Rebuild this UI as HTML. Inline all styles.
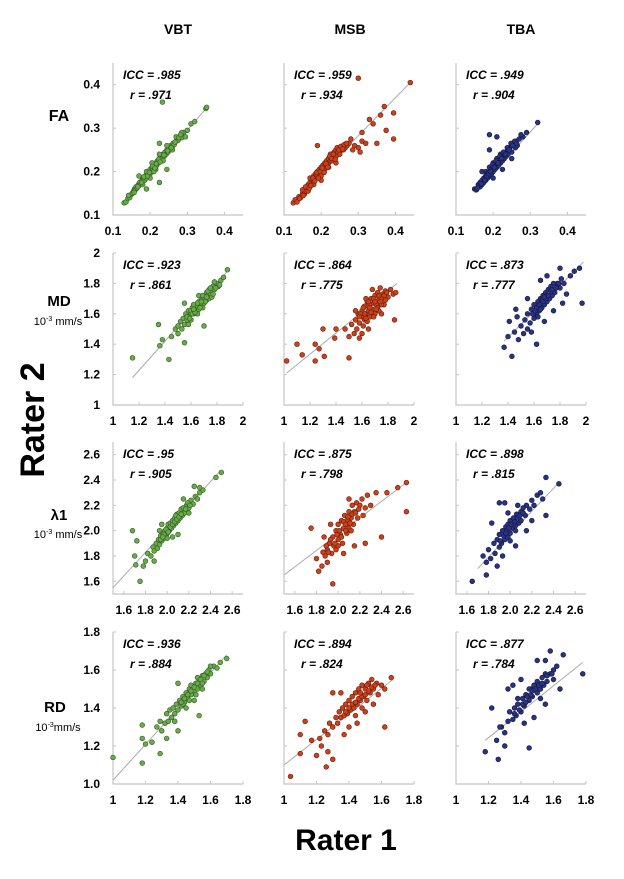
<!DOCTYPE html>
<html><head><meta charset="utf-8">
<style>
body{margin:0;background:#fff;width:624px;height:879px;overflow:hidden;font-family:"Liberation Sans",Arial,sans-serif;}
svg{display:block}
</style></head>
<body>
<svg id="chart" width="624" height="879" viewBox="0 0 624 879" xmlns="http://www.w3.org/2000/svg">
<g id="titles" font-weight="bold" fill="#000">
<text x="178" y="34" font-size="14" text-anchor="middle">VBT</text>
<text x="350" y="34" font-size="14" text-anchor="middle">MSB</text>
<text x="521" y="34" font-size="14" text-anchor="middle">TBA</text>
<text x="59" y="121" font-size="16" text-anchor="middle">FA</text>
<text x="59" y="306" font-size="15" text-anchor="middle">MD</text>
<text x="58" y="325" font-size="11" font-weight="normal" text-anchor="middle">10<tspan font-size="7" dy="-4">-3</tspan><tspan dy="4"> mm/s</tspan></text>
<text x="59" y="520" font-size="15" text-anchor="middle">λ1</text>
<text x="58" y="538" font-size="11" font-weight="normal" text-anchor="middle">10<tspan font-size="7" dy="-4">-3</tspan><tspan dy="4"> mm/s</tspan></text>
<text x="55" y="712" font-size="15" text-anchor="middle">RD</text>
<text x="58" y="731" font-size="11" font-weight="normal" text-anchor="middle">10<tspan font-size="7" dy="-4">-3</tspan><tspan dy="4">mm/s</tspan></text>
<text transform="translate(44,420) rotate(-90)" font-size="34" text-anchor="middle">Rater 2</text>
<text x="346" y="850" font-size="30" text-anchor="middle">Rater 1</text>
</g>
<g id="panels"></g>
</svg>
<script>
// ---- data ----
const faTicks=[0.1,0.2,0.3,0.4];
const faTickLabels=["0.1","0.2","0.3","0.4"];
const mdTicks=[1,1.2,1.4,1.6,1.8,2];
const mdTickLabels=["1","1.2","1.4","1.6","1.8","2"];
const l1Ticks=[1.6,1.8,2.0,2.2,2.4,2.6];
const l1TickLabels=["1.6","1.8","2.0","2.2","2.4","2.6"];
const rdTicks=[1,1.2,1.4,1.6,1.8];
const rdXTickLabels=["1","1.2","1.4","1.6","1.8"];
const rdYTickLabels=["1.0","1.2","1.4","1.6","1.8"];
const faDomain=[0.1,0.45], mdDomain=[1,2], l1Domain=[1.5,2.7], rdDomain=[1,1.8];

const iccValues=[".985",".959",".949",".923",".864",".873",".95",".875",".898",".936",".894",".877"];
const rValues=[".971",".934",".904",".861",".775",".777",".905",".798",".815",".884",".824",".784"];

const faVbtFit=[[0.13,0.125],[0.355,0.35]];
const faVbt=[[.13,.128],[.135,.13],[.14,.138],[.145,.14],[.15,.148],[.152,.15],[.155,.155],[.158,.16],[.16,.158],[.162,.165],[.165,.162],[.168,.17],[.17,.168],[.172,.175],[.175,.172],[.178,.18],[.18,.178],[.182,.185],[.185,.18],[.187,.19],[.19,.185],[.192,.195],[.195,.19],[.197,.2],[.2,.195],[.2,.205],[.203,.2],[.205,.21],[.208,.205],[.21,.215],[.212,.21],[.215,.22],[.218,.215],[.22,.225],[.222,.22],[.225,.23],[.228,.225],[.23,.235],[.232,.23],[.235,.24],[.238,.235],[.24,.245],[.243,.24],[.245,.25],[.248,.245],[.25,.255],[.253,.25],[.255,.26],[.26,.258],[.262,.265],[.265,.262],[.27,.27],[.275,.272],[.28,.28],[.285,.278],[.29,.29],[.3,.295],[.31,.31],[.32,.315],[.35,.345],[.352,.348],[.233,.36],[.225,.175],[.245,.205],[.19,.16],[.17,.19],[.225,.265],[.295,.28],[.285,.29],[.18,.17],[.2,.185],[.215,.205],[.235,.225],[.26,.25],[.21,.2],[.19,.2],[.205,.22],[.225,.24],[.245,.26],[.27,.28],[.142,.145],[.157,.152],[.167,.165],[.177,.175],[.183,.188],[.193,.19],[.198,.198],[.207,.212],[.213,.208],[.217,.218],[.223,.228],[.227,.222],[.237,.238],[.247,.248],[.257,.255],[.267,.268],[.277,.278],[.282,.285]];
const faMsbFit=[[0.12,0.125],[0.44,0.405]];
const faMsb=[[.125,.128],[.13,.135],[.135,.13],[.14,.142],[.145,.14],[.15,.15],[.15,.158],[.155,.148],[.16,.162],[.16,.155],[.165,.17],[.165,.16],[.17,.175],[.17,.165],[.175,.18],[.175,.17],[.18,.19],[.18,.178],[.185,.185],[.185,.195],[.19,.19],[.19,.2],[.195,.195],[.195,.205],[.2,.2],[.2,.21],[.2,.19],[.205,.215],[.205,.2],[.21,.22],[.21,.205],[.215,.215],[.215,.225],[.22,.22],[.22,.23],[.225,.225],[.225,.24],[.23,.235],[.23,.225],[.235,.245],[.235,.23],[.24,.25],[.24,.235],[.245,.245],[.25,.255],[.25,.24],[.255,.25],[.26,.26],[.26,.25],[.265,.255],[.27,.26],[.275,.265],[.28,.275],[.19,.26],[.165,.155],[.3,.415],[.44,.405],[.37,.35],[.395,.335],[.375,.295],[.395,.275],[.31,.27],[.33,.32],[.34,.31],[.35,.265],[.305,.245],[.32,.265],[.3,.255],[.29,.26],[.31,.29],[.36,.33],[.285,.25],[.18,.17],[.2,.18],[.22,.21],[.24,.22],[.17,.185],[.142,.138],[.152,.145],[.158,.165],[.168,.162],[.172,.168],[.178,.185],[.183,.178],[.188,.198],[.193,.185],[.198,.2],[.203,.208],[.208,.198],[.213,.218],[.218,.21],[.223,.235],[.228,.23],[.233,.24],[.238,.228],[.243,.255],[.248,.25],[.253,.258],[.258,.252],[.262,.262],[.268,.265]];
const faTbaFit=[[0.15,0.15],[0.32,0.31]];
const faTba=[[.15,.16],[.155,.158],[.16,.165],[.16,.17],[.165,.175],[.165,.165],[.17,.18],[.17,.17],[.175,.185],[.175,.175],[.18,.19],[.18,.18],[.18,.2],[.185,.195],[.185,.185],[.19,.2],[.19,.19],[.19,.21],[.195,.205],[.195,.195],[.2,.21],[.2,.2],[.2,.22],[.205,.215],[.205,.205],[.21,.22],[.21,.21],[.21,.23],[.215,.225],[.215,.215],[.22,.23],[.22,.22],[.22,.24],[.225,.235],[.225,.225],[.23,.24],[.23,.23],[.235,.245],[.235,.235],[.24,.25],[.24,.24],[.245,.255],[.25,.26],[.25,.245],[.255,.265],[.26,.27],[.26,.255],[.27,.275],[.28,.28],[.29,.29],[.32,.313],[.19,.285],[.21,.28],[.19,.25],[.17,.2],[.2,.185],[.225,.205],[.25,.23],[.265,.26],[.275,.285],[.158,.162],[.168,.172],[.178,.18],[.183,.19],[.188,.195],[.193,.2],[.198,.215],[.203,.21],[.208,.225],[.213,.22],[.218,.235],[.223,.23],[.228,.245],[.233,.24],[.238,.255],[.243,.25],[.248,.265],[.253,.26],[.258,.27],[.263,.265]];

const mdVbtFit=[[1.15,1.18],[1.88,1.88]];
const mdVbt=[[1.15,1.31],[1.35,1.53],[1.43,1.3],[1.7,1.52],[1.55,1.41],[1.38,1.43],[1.36,1.39],[1.45,1.45],[1.48,1.5],[1.5,1.52],[1.5,1.47],[1.52,1.55],[1.53,1.5],[1.54,1.57],[1.55,1.53],[1.56,1.6],[1.57,1.56],[1.58,1.58],[1.58,1.62],[1.6,1.6],[1.6,1.56],[1.61,1.64],[1.62,1.6],[1.63,1.63],[1.64,1.66],[1.64,1.61],[1.65,1.65],[1.66,1.68],[1.66,1.63],[1.67,1.67],[1.68,1.7],[1.68,1.65],[1.69,1.69],[1.7,1.72],[1.7,1.67],[1.71,1.7],[1.72,1.74],[1.72,1.69],[1.73,1.72],[1.74,1.76],[1.75,1.73],[1.76,1.75],[1.77,1.78],[1.78,1.76],[1.8,1.8],[1.81,1.78],[1.83,1.82],[1.85,1.84],[1.88,1.89],[1.55,1.67],[1.58,1.53],[1.62,1.66],[1.66,1.72],[1.74,1.7],[1.78,1.81],[1.82,1.79],[1.6,1.62],[1.65,1.6],[1.69,1.64],[1.76,1.71],[1.57,1.58],[1.59,1.57],[1.61,1.6],[1.63,1.61],[1.65,1.67],[1.67,1.64],[1.69,1.72],[1.71,1.68],[1.73,1.75],[1.75,1.77],[1.77,1.73],[1.79,1.77],[1.62,1.63],[1.68,1.68],[1.72,1.71]];
const mdMsbFit=[[1.02,1.21],[1.87,1.8]];
const mdMsb=[[1.02,1.29],[1.1,1.4],[1.14,1.33],[1.24,1.4],[1.24,1.29],[1.27,1.37],[1.31,1.32],[1.3,1.5],[1.5,1.31],[1.4,1.5],[1.39,1.44],[1.47,1.5],[1.5,1.45],[1.52,1.53],[1.54,1.47],[1.55,1.56],[1.56,1.5],[1.57,1.6],[1.58,1.54],[1.58,1.44],[1.6,1.58],[1.6,1.62],[1.61,1.52],[1.62,1.65],[1.62,1.56],[1.63,1.6],[1.64,1.68],[1.64,1.55],[1.65,1.62],[1.66,1.66],[1.66,1.58],[1.67,1.7],[1.68,1.63],[1.69,1.67],[1.7,1.72],[1.7,1.6],[1.71,1.66],[1.72,1.74],[1.72,1.64],[1.73,1.69],[1.74,1.77],[1.75,1.7],[1.76,1.73],[1.77,1.66],[1.78,1.75],[1.8,1.71],[1.82,1.76],[1.84,1.73],[1.86,1.74],[1.85,1.56],[1.75,1.6],[1.6,1.47],[1.65,1.5],[1.55,1.62],[1.68,1.76],[1.63,1.7],[1.73,1.62],[1.59,1.6],[1.69,1.58],[1.78,1.69],[1.61,1.64],[1.63,1.57],[1.65,1.68],[1.67,1.61],[1.69,1.7],[1.71,1.63],[1.73,1.72],[1.75,1.66],[1.77,1.72],[1.79,1.74],[1.62,1.6],[1.66,1.64],[1.7,1.68],[1.74,1.68],[1.58,1.58]];
const mdTbaFit=[[1.37,1.42],[1.98,1.94]];
const mdTba=[[1.37,1.38],[1.43,1.32],[1.41,1.55],[1.46,1.63],[1.62,1.4],[1.97,1.67],[1.91,1.88],[1.4,1.45],[1.45,1.48],[1.48,1.43],[1.5,1.52],[1.52,1.47],[1.53,1.56],[1.55,1.5],[1.55,1.6],[1.57,1.54],[1.58,1.63],[1.6,1.57],[1.6,1.66],[1.62,1.6],[1.63,1.68],[1.64,1.62],[1.65,1.7],[1.66,1.64],[1.67,1.72],[1.68,1.66],[1.69,1.74],[1.7,1.68],[1.71,1.76],[1.72,1.7],[1.73,1.78],[1.74,1.72],[1.75,1.8],[1.76,1.74],[1.78,1.8],[1.8,1.77],[1.81,1.83],[1.83,1.8],[1.85,1.73],[1.88,1.85],[1.95,1.9],[1.8,1.9],[1.7,1.85],[1.65,1.82],[1.55,1.7],[1.47,1.58],[1.58,1.48],[1.68,1.55],[1.75,1.62],[1.82,1.67],[1.62,1.64],[1.66,1.69],[1.7,1.72],[1.63,1.58],[1.73,1.75],[1.59,1.6],[1.61,1.62],[1.64,1.66],[1.67,1.68],[1.69,1.7],[1.71,1.72],[1.74,1.76],[1.77,1.77],[1.79,1.8],[1.65,1.63],[1.68,1.71]];

const l1VbtFit=[[1.5,1.55],[2.5,2.48]];
const l1Vbt=[[1.68,2.0],[1.72,1.92],[1.7,1.8],[1.75,1.6],[1.78,1.72],[1.71,1.73],[1.8,1.76],[1.82,1.82],[1.85,1.8],[1.87,1.87],[1.88,1.84],[1.9,1.9],[1.91,1.86],[1.92,1.93],[1.93,1.89],[1.94,1.96],[1.95,1.92],[1.96,1.98],[1.97,1.94],[1.98,2.0],[1.99,1.96],[2.0,2.02],[2.0,1.98],[2.01,2.05],[2.02,2.0],[2.03,2.06],[2.04,2.02],[2.05,2.08],[2.06,2.04],[2.07,2.1],[2.08,2.06],[2.09,2.13],[2.1,2.08],[2.11,2.14],[2.12,2.1],[2.13,2.17],[2.14,2.12],[2.15,2.18],[2.16,2.14],[2.18,2.2],[2.2,2.18],[2.22,2.24],[2.24,2.21],[2.26,2.27],[2.28,2.25],[2.3,2.3],[2.33,2.32],[2.45,2.42],[2.5,2.46],[1.88,1.76],[2.05,1.95],[2.1,1.97],[2.15,2.25],[2.25,2.35],[1.95,2.05],[2.2,2.14],[2.3,2.34],[2.0,1.94],[1.93,2.0],[2.08,2.12],[1.97,1.97],[1.99,2.01],[2.01,1.99],[2.03,2.03],[2.05,2.05],[2.07,2.07],[2.09,2.09],[2.11,2.11],[2.13,2.13],[2.17,2.17],[2.19,2.22],[2.21,2.2],[1.94,1.93],[1.96,1.95]];
const l1MsbFit=[[1.5,1.65],[2.63,2.38]];
const l1Msb=[[2.63,2.38],[2.63,2.15],[2.4,1.95],[1.75,2.02],[1.95,1.58],[1.85,1.72],[1.88,1.8],[1.9,1.85],[1.9,1.75],[1.92,1.9],[1.94,1.82],[1.95,1.95],[1.96,1.88],[1.98,2.0],[1.98,1.85],[2.0,1.93],[2.0,2.05],[2.02,1.97],[2.03,2.08],[2.04,1.9],[2.05,2.02],[2.06,2.12],[2.08,1.98],[2.08,2.08],[2.1,2.15],[2.1,2.02],[2.12,2.1],[2.13,2.2],[2.14,2.05],[2.15,2.15],[2.17,2.22],[2.18,2.1],[2.2,2.2],[2.22,2.25],[2.23,2.12],[2.25,2.18],[2.27,2.28],[2.3,2.2],[2.35,2.3],[2.45,2.3],[2.55,2.34],[1.8,1.78],[1.82,1.68],[1.87,1.95],[2.05,1.82],[2.15,1.88],[2.25,1.9],[1.93,2.05],[2.1,2.25],[2.0,1.88],[2.07,2.0],[2.12,2.0],[1.91,1.83],[1.93,1.93],[1.97,1.9],[1.99,1.97],[2.01,2.0],[2.03,1.95],[2.05,2.07],[2.07,2.05],[2.09,2.11],[2.11,2.06],[2.13,2.13],[2.16,2.14],[2.19,2.17],[1.86,1.83],[1.89,1.88]];
const l1TbaFit=[[1.7,1.7],[2.45,2.38]];
const l1Tba=[[1.65,1.6],[2.33,2.42],[2.33,2.12],[1.78,1.65],[2.45,2.37],[1.75,1.8],[1.78,1.75],[1.8,1.85],[1.82,1.78],[1.85,1.9],[1.86,1.82],[1.88,1.93],[1.9,1.87],[1.9,1.97],[1.92,1.9],[1.93,2.0],[1.95,1.93],[1.96,2.03],[1.98,1.95],[1.98,2.05],[2.0,1.98],[2.0,2.08],[2.02,2.02],[2.03,2.1],[2.05,2.04],[2.06,2.13],[2.08,2.06],[2.1,2.15],[2.1,2.08],[2.12,2.18],[2.14,2.12],[2.15,2.2],[2.18,2.17],[2.2,2.24],[2.22,2.2],[2.25,2.28],[2.28,2.3],[2.3,2.25],[1.9,2.22],[1.95,2.22],[1.83,2.06],[1.93,1.8],[2.05,1.88],[2.15,2.0],[2.2,2.08],[1.98,2.14],[2.07,2.2],[1.88,1.72],[2.0,1.92],[2.05,2.0],[1.94,1.96],[1.97,2.0],[1.99,2.02],[2.01,2.05],[2.04,2.07],[2.07,2.1],[2.09,2.12],[2.12,2.14],[1.91,1.92],[1.96,1.98]];

const rdVbtFit=[[1.0,1.02],[1.7,1.68]];
const rdVbt=[[1.0,1.14],[1.18,1.11],[1.29,1.16],[1.53,1.36],[1.18,1.31],[1.18,1.24],[1.4,1.53],[1.2,1.21],[1.24,1.22],[1.27,1.3],[1.29,1.33],[1.3,1.28],[1.32,1.32],[1.33,1.37],[1.34,1.33],[1.35,1.39],[1.36,1.35],[1.37,1.4],[1.38,1.37],[1.39,1.42],[1.4,1.39],[1.41,1.44],[1.42,1.41],[1.43,1.46],[1.44,1.43],[1.45,1.48],[1.46,1.45],[1.47,1.5],[1.48,1.47],[1.49,1.51],[1.5,1.49],[1.51,1.53],[1.52,1.5],[1.53,1.55],[1.54,1.52],[1.55,1.57],[1.56,1.54],[1.57,1.58],[1.58,1.56],[1.59,1.6],[1.6,1.58],[1.62,1.62],[1.64,1.61],[1.66,1.64],[1.7,1.66],[1.4,1.28],[1.33,1.24],[1.45,1.4],[1.5,1.44],[1.55,1.5],[1.48,1.52],[1.43,1.42],[1.6,1.62],[1.38,1.33],[1.52,1.56],[1.44,1.45],[1.46,1.47],[1.48,1.49],[1.5,1.51],[1.52,1.53],[1.54,1.55],[1.56,1.57],[1.58,1.59],[1.47,1.44],[1.51,1.47],[1.55,1.53],[1.42,1.43]];
const rdMsbFit=[[1.0,1.1],[1.67,1.55]];
const rdMsb=[[1.04,1.04],[1.1,1.16],[1.13,1.33],[1.26,1.09],[1.3,1.13],[1.62,1.3],[1.2,1.15],[1.1,1.26],[1.17,1.23],[1.22,1.24],[1.23,1.2],[1.25,1.28],[1.27,1.26],[1.28,1.32],[1.3,1.3],[1.32,1.35],[1.33,1.32],[1.34,1.38],[1.35,1.35],[1.36,1.4],[1.37,1.36],[1.38,1.42],[1.39,1.37],[1.4,1.44],[1.41,1.39],[1.42,1.46],[1.43,1.4],[1.44,1.48],[1.45,1.42],[1.46,1.5],[1.47,1.44],[1.48,1.52],[1.49,1.46],[1.5,1.5],[1.51,1.44],[1.52,1.53],[1.53,1.48],[1.54,1.55],[1.55,1.5],[1.57,1.53],[1.58,1.47],[1.6,1.52],[1.62,1.5],[1.66,1.56],[1.35,1.48],[1.3,1.48],[1.4,1.3],[1.45,1.32],[1.5,1.38],[1.55,1.42],[1.27,1.17],[1.37,1.26],[1.44,1.36],[1.48,1.4],[1.42,1.42],[1.44,1.43],[1.46,1.45],[1.48,1.46],[1.5,1.47],[1.52,1.49],[1.54,1.51],[1.4,1.4],[1.38,1.38],[1.47,1.48],[1.51,1.52],[1.56,1.52]];
const rdTbaFit=[[1.18,1.23],[1.78,1.64]];
const rdTba=[[1.18,1.17],[1.26,1.13],[1.45,1.19],[1.78,1.58],[1.58,1.7],[1.22,1.4],[1.66,1.68],[1.25,1.23],[1.28,1.3],[1.3,1.27],[1.32,1.33],[1.33,1.38],[1.35,1.34],[1.36,1.4],[1.37,1.36],[1.38,1.42],[1.4,1.38],[1.41,1.45],[1.42,1.41],[1.43,1.47],[1.45,1.44],[1.46,1.5],[1.47,1.46],[1.48,1.52],[1.5,1.48],[1.5,1.54],[1.52,1.5],[1.53,1.56],[1.54,1.52],[1.55,1.58],[1.56,1.54],[1.58,1.58],[1.6,1.6],[1.6,1.55],[1.62,1.62],[1.64,1.5],[1.32,1.5],[1.35,1.52],[1.4,1.55],[1.5,1.65],[1.55,1.65],[1.42,1.32],[1.48,1.35],[1.55,1.42],[1.3,1.2],[1.27,1.3],[1.45,1.5],[1.52,1.45],[1.38,1.45],[1.39,1.39],[1.41,1.42],[1.43,1.43],[1.44,1.46],[1.46,1.47],[1.47,1.49],[1.49,1.5],[1.51,1.52],[1.53,1.53],[1.56,1.57],[1.59,1.58],[1.36,1.37]];

// ---- layout ----
const colX=[113,284,456], rowBottom=[215,405,594,784], W=130, H=152;
const styles=[{f:"#6aaa4a",s:"#2f5a22"},{f:"#c9421c",s:"#6a1a08"},{f:"#2a3382",s:"#11173f"}];
const rows=[
 {d:faDomain,xt:faTicks,xl:faTickLabels,yl:faTickLabels,sets:[faVbt,faMsb,faTba],fits:[faVbtFit,faMsbFit,faTbaFit]},
 {d:mdDomain,xt:mdTicks,xl:mdTickLabels,yl:mdTickLabels,sets:[mdVbt,mdMsb,mdTba],fits:[mdVbtFit,mdMsbFit,mdTbaFit]},
 {d:l1Domain,xt:l1Ticks,xl:l1TickLabels,yl:l1TickLabels,sets:[l1Vbt,l1Msb,l1Tba],fits:[l1VbtFit,l1MsbFit,l1TbaFit]},
 {d:rdDomain,xt:rdTicks,xl:rdXTickLabels,yl:rdYTickLabels,sets:[rdVbt,rdMsb,rdTba],fits:[rdVbtFit,rdMsbFit,rdTbaFit]}
];
const NS="http://www.w3.org/2000/svg";
const root=document.getElementById('panels');
function mk(tag,attrs,parent){const e=document.createElementNS(NS,tag);for(const k in attrs)e.setAttribute(k,attrs[k]);parent.appendChild(e);return e;}
const rowNames=["fa","md","l1","rd"], colNames=["vbt","msb","tba"];
rows.forEach((row,ri)=>{
 colX.forEach((x0,ci)=>{
  const yb=rowBottom[ri];
  const sx=v=>x0+(v-row.d[0])/(row.d[1]-row.d[0])*W;
  const sy=v=>yb-(v-row.d[0])/(row.d[1]-row.d[0])*H;
  const g=mk('g',{},root);
  
  
  const ax=mk('path',{d:`M${x0} ${yb-H}V${yb}H${x0+W}`,stroke:"#c4c4c4","stroke-width":1.2,fill:"none"},g);
  
  
  row.xt.forEach((t,i)=>{
   mk('line',{x1:sx(t),x2:sx(t),y1:yb,y2:yb-3,stroke:"#c4c4c4"},g);
   mk('line',{x1:x0,x2:x0+3,y1:sy(t),y2:sy(t),stroke:"#c4c4c4"},g);
   const tx=mk('text',{x:sx(t),y:yb+20,"font-size":12,"font-weight":"bold","text-anchor":"middle"},g);
   tx.textContent=row.xl[i];
   
   
   if(ci===0){
    const ty=mk('text',{x:x0-13,y:sy(t)+4,"font-size":12,"font-weight":"bold","text-anchor":"end"},g);
    ty.textContent=row.yl[i];
    
    
   }
  });
  const fit=row.fits[ci];
  const fl=mk('line',{x1:sx(fit[0][0]),y1:sy(fit[0][1]),x2:sx(fit[1][0]),y2:sy(fit[1][1]),stroke:"#aaa","stroke-width":1},g);
  
  
  const st=styles[ci];
  row.sets[ci].forEach(p=>{
   const c=mk('circle',{cx:sx(p[0]),cy:sy(p[1]),r:2.4,fill:st.f,stroke:st.s,"stroke-width":0.6},g);
   
   
  });
  const k=ri*3+ci;
  const t1=mk('text',{x:x0+10,y:yb-H+16,"font-size":12,"font-weight":"bold","font-style":"italic"},g);
  t1.textContent="ICC = "+iccValues[k];
  
  
  const t2=mk('text',{x:x0+17,y:yb-H+36,"font-size":12,"font-weight":"bold","font-style":"italic"},g);
  t2.textContent="r = "+rValues[k];
  
  
 });
});
</script>
</body></html>
